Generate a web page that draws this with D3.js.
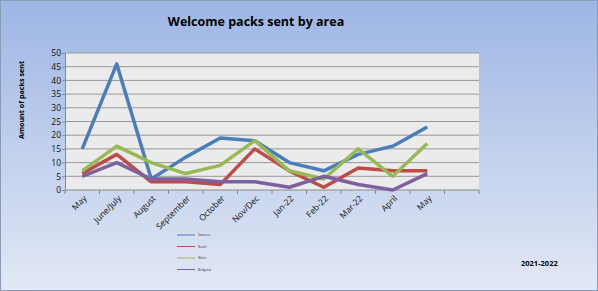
<!DOCTYPE html>
<html><head><meta charset="utf-8">
<script src="https://cdn.jsdelivr.net/npm/d3@7"></script>
<style>body{margin:0;padding:0;overflow:hidden;background:#fff}</style>
</head><body>
<svg id="c" width="598" height="291"></svg>
<script>
const categories = ["May","June/July","August","September","October","Nov/Dec","Jan-22","Feb-22","Mar-22","April","May",""];
const seriesNames = ["Swansea","Neath","Wales","Bridgend"];
const seriesA = [15,46,4,12,19,18,10,7,13,16,23];
const seriesB = [6,13,3,3,2,15,7,1,8,7,7];
const seriesC = [7,16,10,6,9,18,7,4,15,5,17];
const seriesD = [5,10,4,4,3,3,1,5,2,0,6];
const yTicks = [0,5,10,15,20,25,30,35,40,45,50];
const colors = ["#4a7ebb","#be4b48","#98b954","#7d60a0"];
const allSeries = [seriesA,seriesB,seriesC,seriesD];

const svg = d3.select("#c");
const W=598,H=291;
const defs = svg.append("defs");
const g = defs.append("linearGradient").attr("id","bg").attr("x1",0).attr("y1",0).attr("x2",0).attr("y2",1);
g.append("stop").attr("offset","0%").attr("stop-color","#9db6e4");
g.append("stop").attr("offset","100%").attr("stop-color","#e2e8f5");
svg.append("rect").attr("x",0.5).attr("y",0.5).attr("width",W-1).attr("height",H-1).attr("fill","url(#bg)").attr("stroke","#8a9bb8");

const L=65,R=479,T=53,B=190;
const x = d3.scaleBand().domain(categories.map((d,i)=>i)).range([L,R]);
const y = d3.scaleLinear().domain([0,50]).range([B,T]);

svg.append("rect").attr("x",L).attr("y",T).attr("width",R-L).attr("height",B-T).attr("fill","#ebebeb");
svg.append("g").selectAll("line").data(yTicks.filter(d=>d>0)).join("line")
  .attr("x1",L).attr("x2",R).attr("y1",d=>y(d)).attr("y2",d=>y(d))
  .attr("stroke","#999").attr("stroke-width",1);

// y axis
const ya = svg.append("g").attr("transform",`translate(${L},0)`)
  .call(d3.axisLeft(y).tickValues(yTicks).tickSize(3).tickSizeOuter(0));
ya.select(".domain").attr("stroke","#888");
ya.selectAll(".tick line").attr("stroke","#888");
ya.selectAll("text").attr("font-family","Open Sans, sans-serif").attr("font-size","8.5px").attr("fill","#111").attr("x",-4);

// x axis
svg.append("line").attr("x1",L).attr("x2",R).attr("y1",B).attr("y2",B).attr("stroke","#888");
svg.append("g").selectAll("line").data(d3.range(categories.length+1)).join("line")
  .attr("x1",i=>L+i*x.step()).attr("x2",i=>L+i*x.step()).attr("y1",B).attr("y2",B+4).attr("stroke","#888");
svg.append("g").selectAll("text").data(categories.map((c,i)=>({c,i})).filter(d=>d.c!=="")).join("text")
  .attr("transform",d=>`translate(${x(d.i)+x.bandwidth()/2+5},${B+9}) rotate(-45)`)
  .attr("text-anchor","end").attr("font-family","Open Sans, sans-serif").attr("font-size","8.5px").attr("fill","#111")
  .text(d=>d.c);

// lines
const line = d3.line().x((d,i)=>x(i)+x.bandwidth()/2).y(d=>y(d));
allSeries.forEach((s,k)=>{
  svg.append("path").datum(s).attr("d",line).attr("fill","none")
    .attr("stroke",colors[k]).attr("stroke-width",3.5).attr("stroke-linejoin","round").attr("stroke-linecap","butt");
});

// title
svg.append("text").attr("x",256).attr("y",26).attr("text-anchor","middle")
  .attr("font-family","Open Sans, sans-serif").attr("font-weight","bold").attr("font-size","12.5px").attr("fill","#000")
  .text("Welcome packs sent by area");
// y label
svg.append("text").attr("transform","translate(24,100) rotate(-90)").attr("text-anchor","middle")
  .attr("font-family","Open Sans, sans-serif").attr("font-weight","bold").attr("font-size","7.2px").attr("fill","#000")
  .text("Amount of packs sent");

// legend
const lg = svg.append("g");
seriesNames.forEach((n,k)=>{
  const yy = 235 + k*11.5;
  lg.append("line").attr("x1",177).attr("x2",195).attr("y1",yy).attr("y2",yy).attr("stroke",colors[k]).attr("stroke-width",1);
  lg.append("text").attr("x",198).attr("y",yy+1).attr("font-family","Open Sans, sans-serif").attr("font-size","3px").attr("fill","#333").text(n);
});

svg.append("text").attr("x",521).attr("y",266)
  .attr("font-family","Open Sans, sans-serif").attr("font-weight","bold").attr("font-size","7.5px").attr("fill","#000")
  .text("2021-2022");
</script>
</body></html>
